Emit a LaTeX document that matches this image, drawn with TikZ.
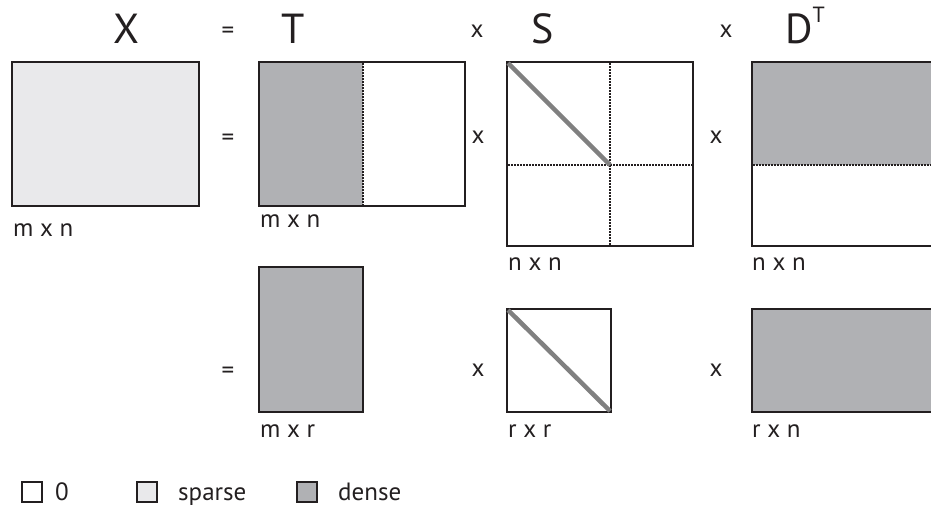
\documentclass[tikz,border=0pt]{standalone}
\usepackage{fontspec}
\setmainfont{PT Sans}
\definecolor{edge}{HTML}{231F20}
\definecolor{sparsec}{HTML}{E9E9EB}
\definecolor{densec}{HTML}{B0B1B4}
\definecolor{diagc}{HTML}{808080}
\begin{document}
\begin{tikzpicture}[x=1pt,y=-1pt,
  mat/.style={draw=edge,line width=2pt,inner sep=0pt,outer sep=0pt},
  zerobox/.style={mat,fill=white},
  sparsebox/.style={mat,fill=sparsec},
  densebox/.style={mat,fill=densec},
  sep/.style={draw=edge,line width=2pt,dash pattern=on 1.5pt off 1.5pt},
  diag/.style={draw=diagc,line width=4.5pt},
  lbl/.style={inner sep=0pt,anchor=base west,font=\fontsize{25}{29}\selectfont,text=edge},
  op/.style={inner sep=0pt,anchor=base,font=\fontsize{25}{29}\selectfont,text=edge},
  head/.style={inner sep=0pt,anchor=base,font=\fontsize{42}{48}\selectfont,text=edge}]
\useasboundingbox (0,0) rectangle (931,507);
\clip (0,0) rectangle (931,507);
% headers
\node[head] (hX) at (126,43) {X};
\node[op] (hEq) at (228,38) {=};
\node[head] (hT) at (293,43) {T};
\node[op] (hx1) at (477,37) {x};
\node[head] (hS) at (543,43) {S};
\node[op] (hx2) at (726,37) {x};
\node[head,anchor=base west] (hD) at (785,43) {D\raisebox{0.5em}{\fontsize{22}{26}\selectfont T}};
% X
\node[sparsebox,minimum width=187pt,minimum height=144pt] (X) at (105.5,134) {};
\node[lbl] (lX) at (13,236) {m x n};
% row 1
\node[op] (eq1) at (228,145) {=};
\fill[densec] (259,62) rectangle (362.7,206);
\node[mat,minimum width=206pt,minimum height=144pt] (T1) at (362,134) {};
\draw[sep] (362.7,63) -- (362.7,205);
\node[lbl] (lT1) at (260,227) {m x n};
\node[op] (x11) at (478,143) {x};
\node[mat,minimum width=186pt,minimum height=184pt] (S1) at (600,154) {};
\draw[sep] (610,63) -- (610,245);
\draw[sep] (508,165) -- (692,165);
\draw[diag] (508,63) -- (610,165);
\node[lbl] (lS1) at (508,270) {n x n};
\node[op] (x12) at (716,143) {x};
\fill[densec] (752,62) rectangle (940,165);
\node[mat,minimum width=188pt,minimum height=184pt] (D1) at (846,154) {};
\draw[sep] (753,165) -- (940,165);
\node[lbl] (lD1) at (752,270) {n x n};
% row 2
\node[op] (eq2) at (228,378) {=};
\node[densebox,minimum width=104pt,minimum height=145pt] (T2) at (311,339.5) {};
\node[lbl] (lT2) at (260,437) {m x r};
\node[op] (x21) at (478,376) {x};
\node[zerobox,minimum width=104pt,minimum height=103pt] (S2) at (559,360.5) {};
\draw[diag] (508,310) -- (610,411);
\node[lbl] (lS2) at (508,437) {r x r};
\node[op] (x22) at (716,376) {x};
\node[densebox,minimum width=188pt,minimum height=103pt] (D2) at (846,360.5) {};
\node[lbl] (lD2) at (752,437) {r x n};
% legend
\node[zerobox,minimum size=20pt] (k0) at (31.5,492) {};
\node[lbl] (t0) at (55,500) {0};
\node[sparsebox,minimum size=20pt] (k1) at (146.5,492) {};
\node[lbl] (t1) at (178,500) {sparse};
\node[densebox,minimum size=20pt] (k2) at (306.5,492) {};
\node[lbl] (t2) at (338,500) {dense};
\end{tikzpicture}
\end{document}
